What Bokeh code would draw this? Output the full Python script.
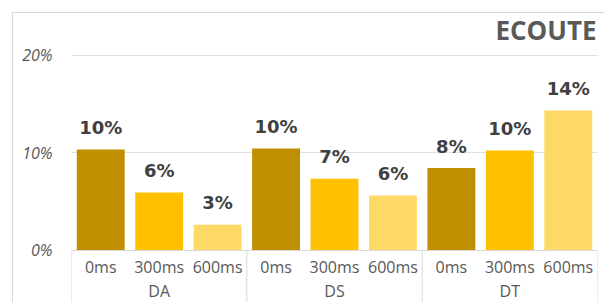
from bokeh.plotting import figure
from bokeh.models import (ColumnDataSource, FactorRange, FixedTicker, NumeralTickFormatter,
                          Label, Range1d, CategoricalAxis)
from bokeh.core.properties import value
from bokeh.embed import file_html
from bokeh.resources import INLINE

# ---- data ----
groups = ["DA", "DS", "DT"]
delays = ["0ms", "300ms", "600ms"]
values_da = [0.103, 0.059, 0.026]
values_ds = [0.104, 0.073, 0.056]
values_dt = [0.084, 0.102, 0.143]
labels_da = ["10%", "6%", "3%"]
labels_ds = ["10%", "7%", "6%"]
labels_dt = ["8%", "10%", "14%"]
y_ticks = [0, 0.1, 0.2]
grid_ticks = [0.1, 0.2]
title_text = "ECOUTE"
colors = ["#BF8F00", "#FFC000", "#FFD966"]

factors = [(g, d) for g in groups for d in delays]
vals = values_da + values_ds + values_dt
labs = labels_da + labels_ds + labels_dt
cols = colors * len(groups)

# group boundaries (synthetic coordinates)
bounds = [0]
for g in groups:
    bounds.append(bounds[-1] + len(delays))

# ---- layout ----
W, H = 592, 290
AX_Y = 236.5          # canvas y of 0%
PX = 975.0            # pixels per 1.0 (100%)
y_start = -(H - AX_Y) / PX
y_end = AX_Y / PX

p = figure(
    x_range=FactorRange(*factors, range_padding=0, group_padding=0, factor_padding=0),
    y_range=Range1d(y_start, y_end),
    width=W, height=H,
    output_backend="svg", toolbar_location=None,
    min_border_left=58, min_border_right=W - 584, min_border_top=0, min_border_bottom=0,
)
p.extra_x_ranges = {"grp": FactorRange(*groups, range_padding=0, factor_padding=0)}
p.styles = {"margin-left": "12px", "margin-top": "12px",
            "border-left": "1px solid #D9D9D9", "border-top": "1px solid #D9D9D9"}
p.outline_line_color = None
p.background_fill_color = "white"
p.border_fill_color = "white"

# grid
p.xgrid.grid_line_color = None
p.ygrid.ticker = FixedTicker(ticks=grid_ticks)
p.ygrid.grid_line_color = "#E0E0E0"
p.ygrid.grid_line_width = 1

# y axis
p.yaxis.ticker = FixedTicker(ticks=y_ticks)
p.yaxis.formatter = NumeralTickFormatter(format="0%")
p.yaxis.axis_line_color = None
p.yaxis.major_tick_line_color = None
p.yaxis.minor_tick_line_color = None
p.yaxis.major_label_standoff = 13
p.yaxis.major_label_text_font = "Open Sans"
p.yaxis.major_label_text_font_size = "16px"
p.yaxis.major_label_text_font_style = "italic"
p.yaxis.major_label_text_color = "#595959"

# x axis (category box) - leaf labels
p.xaxis.fixed_location = 0
p.xaxis.axis_line_color = "#D9D9D9"
p.xaxis.major_tick_line_color = None
p.xaxis.minor_tick_line_color = None
p.xaxis.separator_line_color = None
p.xaxis.major_label_standoff = 0
p.xaxis.major_label_text_font = "Open Sans"
p.xaxis.major_label_text_font_size = "16px"
p.xaxis.major_label_text_color = "#595959"
p.xaxis.group_text_color = None
p.xaxis.subgroup_text_color = None

# group labels axis
gaxis = CategoricalAxis(x_range_name="grp", fixed_location=0)
gaxis.axis_line_color = None
gaxis.major_tick_line_color = None
gaxis.minor_tick_line_color = None
gaxis.major_label_standoff = 24
gaxis.major_label_text_font = "Open Sans"
gaxis.major_label_text_font_size = "16px"
gaxis.major_label_text_color = "#595959"
p.add_layout(gaxis, "below")

p.segment(x0=bounds, y0=[0] * len(bounds), x1=bounds, y1=[y_start] * len(bounds),
          line_color="#D9D9D9", line_width=1)

src = ColumnDataSource(dict(x=factors, top=vals, color=cols, label=labs))
p.vbar(x="x", top="top", width=0.82, bottom=0, source=src, fill_color="color", line_color=None)
p.text(x="x", y="top", text="label", source=src, text_font=value("DejaVu Sans"),
       text_font_style="bold", text_font_size="18px", text_color="#404040",
       text_align="center", text_baseline="alphabetic", y_offset=-22)

p.add_layout(Label(x=len(factors), y=(AX_Y - 16.5) / PX, x_offset=-1, text=title_text,
                   text_align="right", text_baseline="alphabetic", text_font="Open Sans",
                   text_font_style="bold", text_font_size="26px", text_color="#595959"))

open("out.html", "w").write(file_html(p, INLINE))
